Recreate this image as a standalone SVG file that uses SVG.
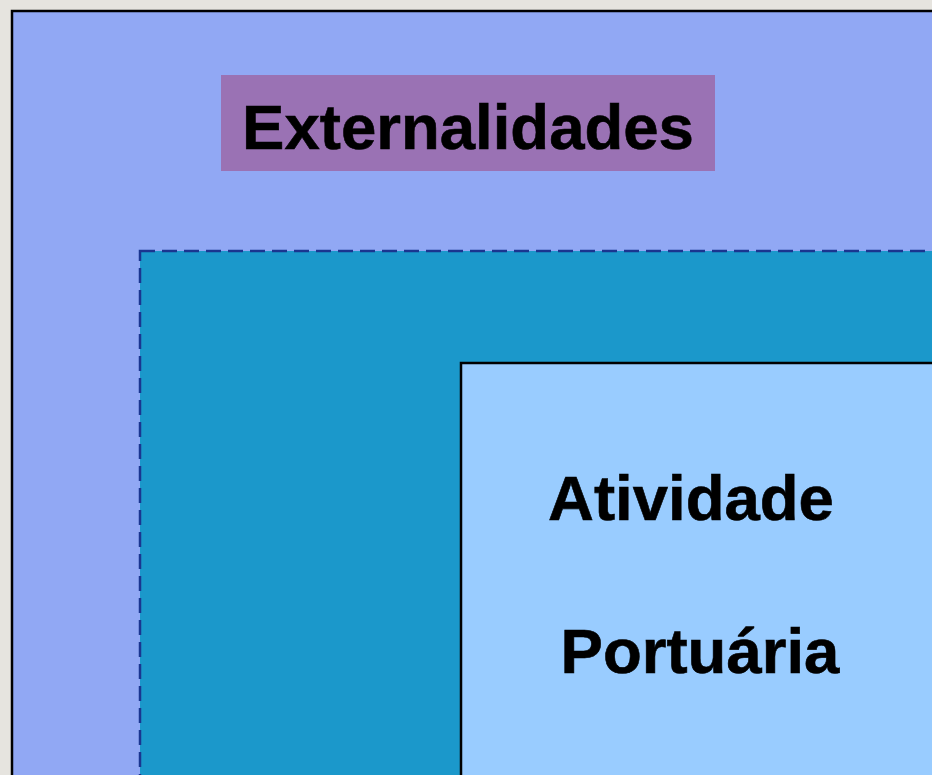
<svg xmlns="http://www.w3.org/2000/svg" width="932" height="775" viewBox="0 0 932 775">
  <style>
    .lbl { font-family: "Liberation Sans", Arial, sans-serif; font-weight: bold; font-size: 63.5px; fill: #000; stroke: #000; stroke-width: 0.6px; }
  </style>
  <rect x="0" y="0" width="932" height="775" fill="#e6e4df"/>
  <g id="externalidades">
    <rect x="12" y="11" width="940" height="800" fill="#91a8f4" stroke="#000" stroke-width="2.5"/>
    <rect x="221" y="75" width="494" height="96" fill="#9a72b4"/>
    <text class="lbl" x="468" y="149" text-anchor="middle">Externalidades</text>
  </g>
  <g id="meio">
    <rect x="140" y="251" width="820" height="560" fill="#1b98cb" stroke="#1a3590" stroke-width="2.5" stroke-dasharray="15,7"/>
  </g>
  <g id="atividade-portuaria">
    <rect x="461" y="363" width="500" height="450" fill="#99ccff" stroke="#000" stroke-width="2.5"/>
    <text class="lbl" x="691" y="520" text-anchor="middle">Atividade</text>
    <text class="lbl" x="700" y="673" text-anchor="middle">Portuária</text>
  </g>
  <g id="connectors"/>
</svg>
